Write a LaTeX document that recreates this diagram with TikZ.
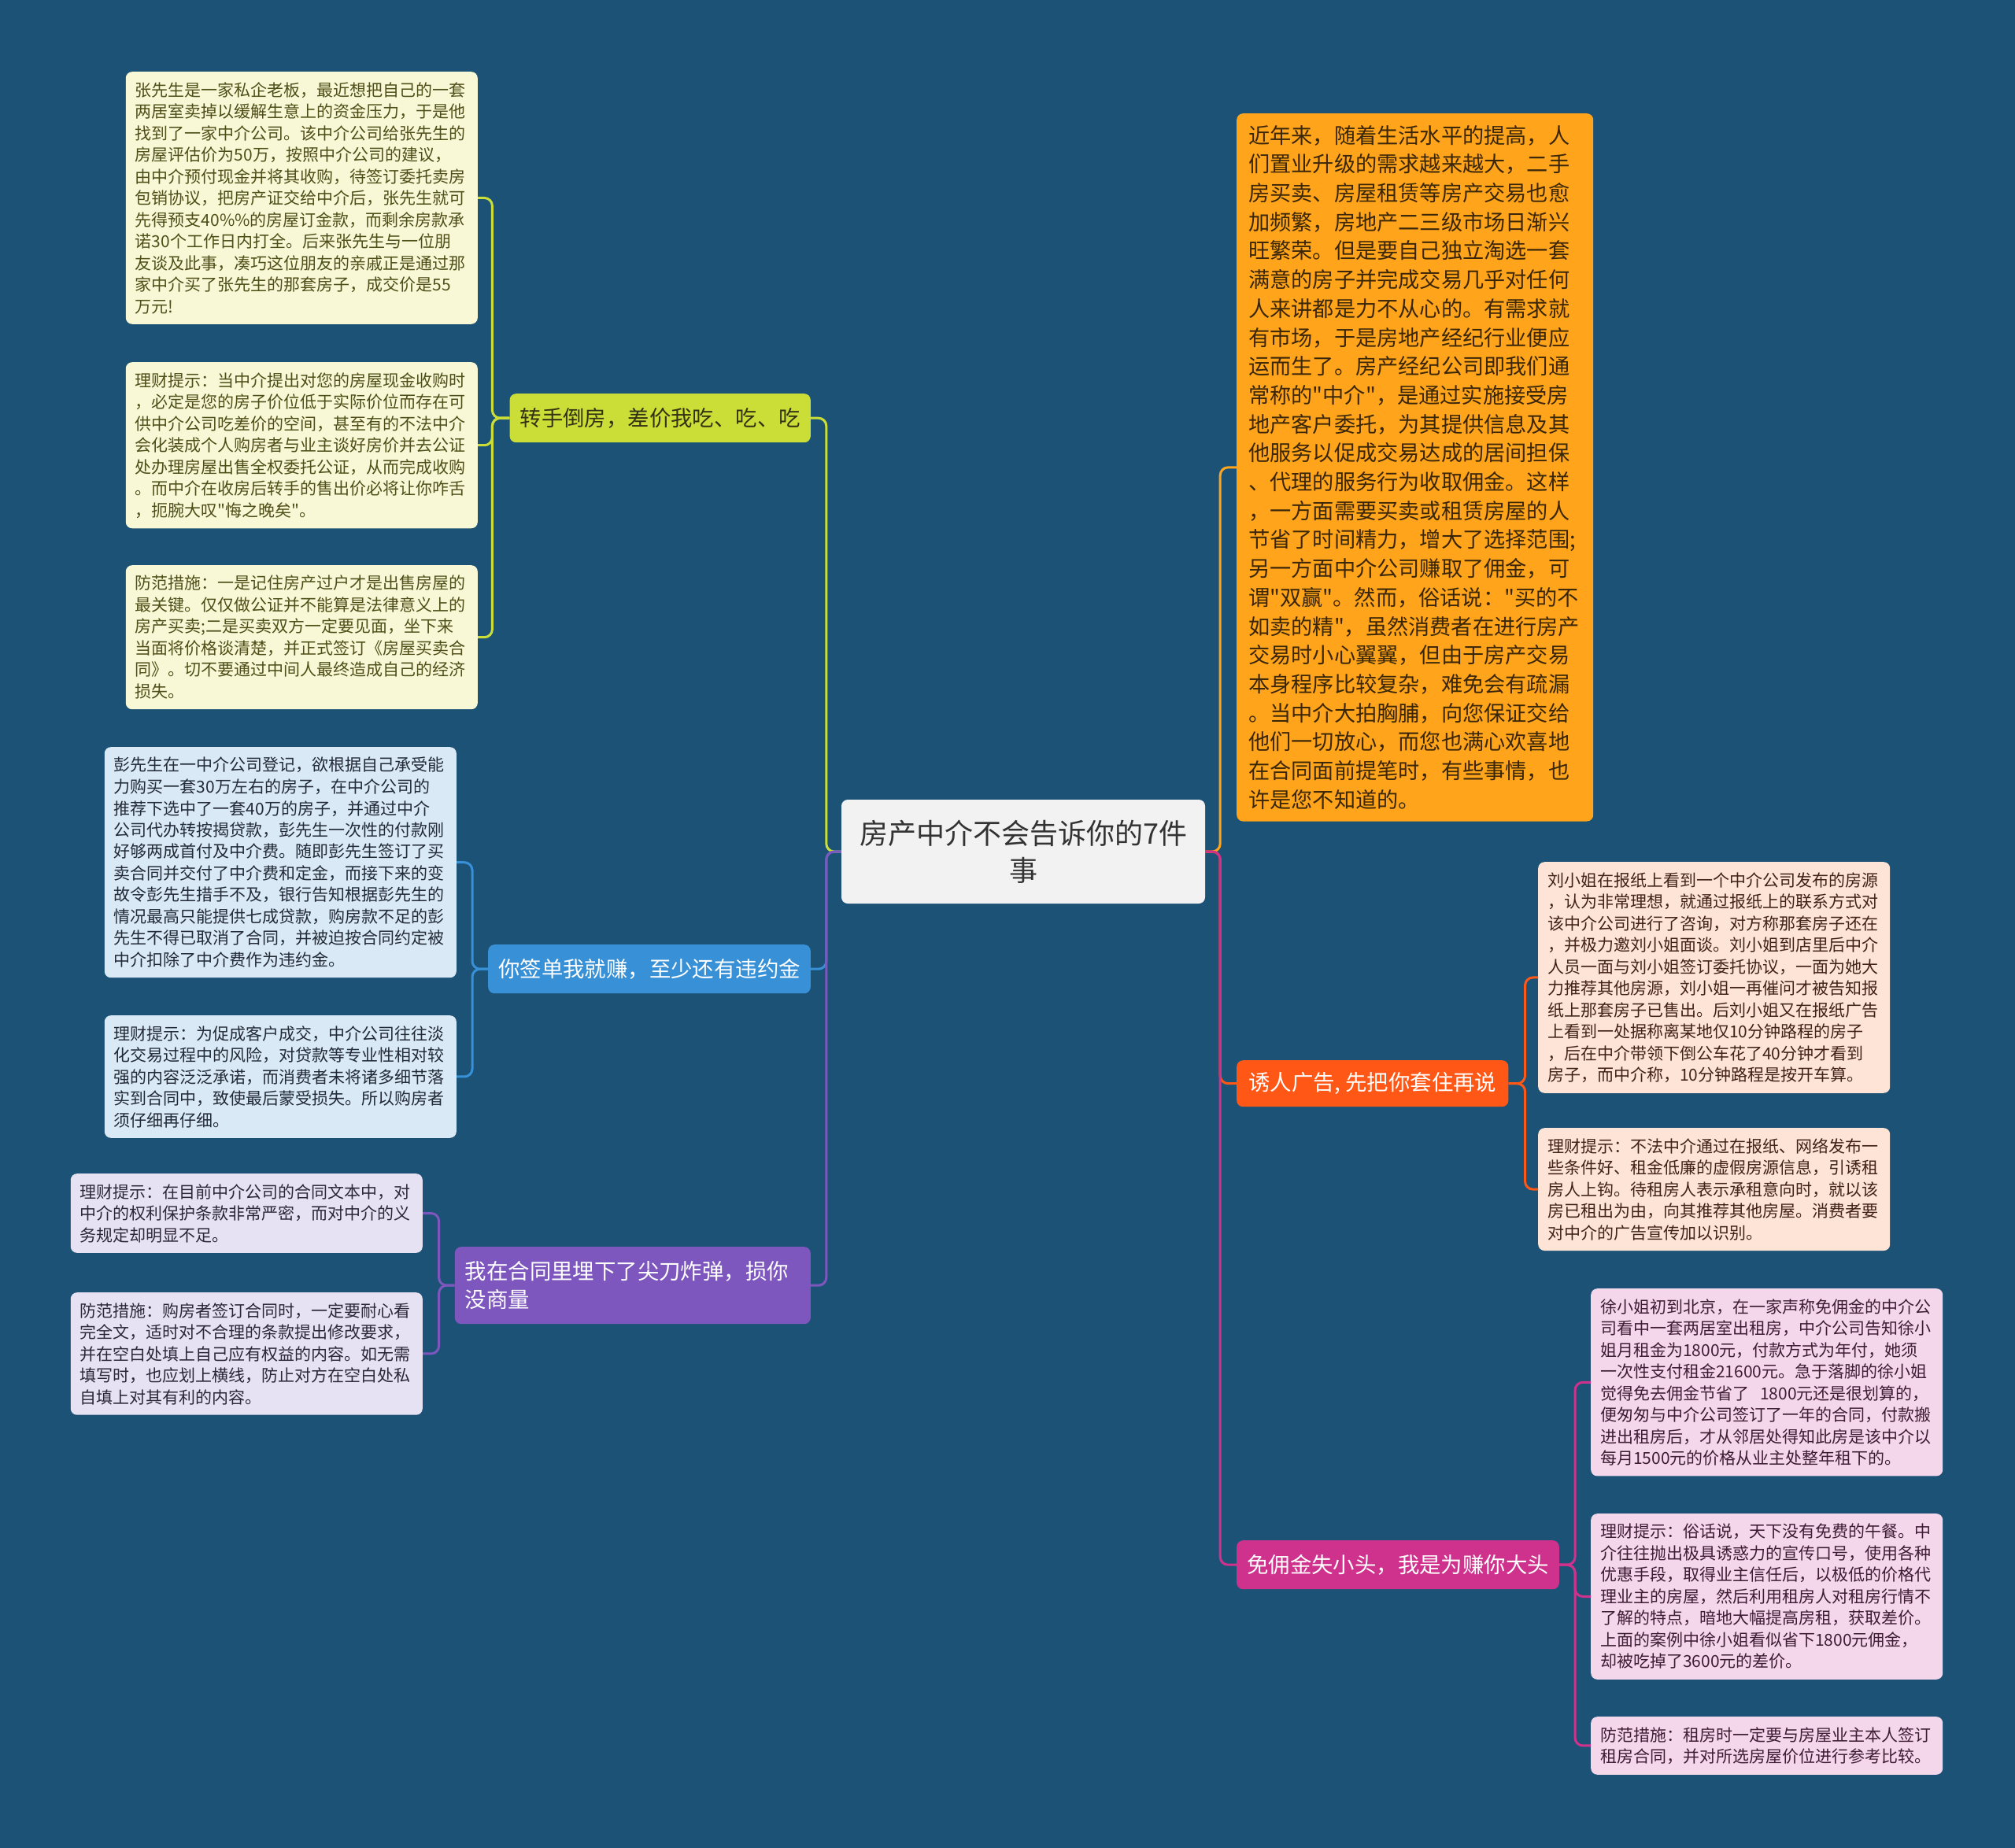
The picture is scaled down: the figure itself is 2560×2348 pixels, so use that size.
\documentclass[tikz,border=0pt]{standalone}
\usepackage{fontspec}
\usepackage{tikz}
\usepackage{xcolor}
\newfontfamily\cjk{Noto Sans CJK SC}
\definecolor{bgblue}{RGB}{28,82,118}
\definecolor{ctrgray}{RGB}{242,242,242}
\definecolor{ctrtext}{RGB}{51,51,51}
\definecolor{limeb}{RGB}{203,222,56}
\definecolor{limetext}{RGB}{51,51,20}
\definecolor{blueb}{RGB}{56,144,214}
\definecolor{purpb}{RGB}{126,87,190}
\definecolor{orngb}{RGB}{255,164,27}
\definecolor{orngtext}{RGB}{58,38,8}
\definecolor{redb}{RGB}{255,88,22}
\definecolor{magb}{RGB}{207,50,141}
\definecolor{lfyel}{RGB}{249,248,214}
\definecolor{lfyeltext}{RGB}{78,78,24}
\definecolor{lfblue}{RGB}{217,233,246}
\definecolor{lfbluetext}{RGB}{34,42,54}
\definecolor{lfpurp}{RGB}{231,226,243}
\definecolor{lfpurptext}{RGB}{44,38,56}
\definecolor{lfpeach}{RGB}{253,228,214}
\definecolor{lfpeachtext}{RGB}{66,34,22}
\definecolor{lfpink}{RGB}{244,215,235}
\definecolor{lfpinktext}{RGB}{62,28,52}
\begin{document}
\begin{tikzpicture}[x=1pt,y=-1pt,every node/.style={rounded corners=8pt,inner xsep=12pt,inner ysep=13pt},
ctrbox/.style={fill=ctrgray,text=ctrtext,minimum width=462pt,minimum height=132pt,align=center,font=\cjk\fontsize{36}{47}\selectfont},
brl/.style={anchor=north east,minimum height=62pt,inner xsep=13pt,inner ysep=0pt,align=left,font=\cjk\fontsize{27.4}{36}\selectfont},
brr/.style={brl,anchor=north west},
leafl/.style={anchor=north east,text width=423pt,align=left,font=\cjk\fontsize{21}{27.5}\selectfont},
leafr/.style={leafl,anchor=north west},
lk/.style={line width=3pt,rounded corners=10pt}]
\fill[bgblue](0,0)rectangle(2560,2348);
\node[ctrbox](ctr) at (1300,1082){房产中介不会告诉你的7件\\事};
\node[brl,fill=limeb,text=limetext](b1) at (1030,500){转手倒房，差价我吃、吃、吃};
\node[brl,fill=blueb,text=white](b2) at (1030,1200){你签单我就赚，至少还有违约金};
\node[brl,fill=purpb,text=white,minimum height=98pt,text width=426pt](b3) at (1030,1584){我在合同里埋下了尖刀炸弹，损你\\没商量};
\node[brr,fill=orngb,text=orngtext,inner xsep=15pt,inner ysep=15pt,text width=423pt,font=\cjk\fontsize{27.2}{36.7}\selectfont](r1) at (1571,144){近年来，随着生活水平的提高，人\\们置业升级的需求越来越大，二手\\房买卖、房屋租赁等房产交易也愈\\加频繁，房地产二三级市场日渐兴\\旺繁荣。但是要自己独立淘选一套\\满意的房子并完成交易几乎对任何\\人来讲都是力不从心的。有需求就\\有市场，于是房地产经纪行业便应\\运而生了。房产经纪公司即我们通\\常称的"中介"，是通过实施接受房\\地产客户委托，为其提供信息及其\\他服务以促成交易达成的居间担保\\、代理的服务行为收取佣金。这样\\，一方面需要买卖或租赁房屋的人\\节省了时间精力，增大了选择范围;\\另一方面中介公司赚取了佣金，可\\谓"双赢"。然而，俗话说："买的不\\如卖的精"，虽然消费者在进行房产\\交易时小心翼翼，但由于房产交易\\本身程序比较复杂，难免会有疏漏\\。当中介大拍胸脯，向您保证交给\\他们一切放心，而您也满心欢喜地\\在合同面前提笔时，有些事情，也\\许是您不知道的。};
\node[brr,fill=redb,text=white,minimum height=59pt,inner xsep=15pt](r2) at (1571,1347){诱人广告, 先把你套住再说};
\node[brr,fill=magb,text=white](r3) at (1571,1957){免佣金失小头，我是为赚你大头};
\node[leafl,fill=lfyel,text=lfyeltext](l1a) at (607,91){张先生是一家私企老板，最近想把自己的一套\\两居室卖掉以缓解生意上的资金压力，于是他\\找到了一家中介公司。该中介公司给张先生的\\房屋评估价为50万，按照中介公司的建议，\\由中介预付现金并将其收购，待签订委托卖房\\包销协议，把房产证交给中介后，张先生就可\\先得预支40\%\%的房屋订金款，而剩余房款承\\诺30个工作日内打全。后来张先生与一位朋\\友谈及此事，凑巧这位朋友的亲戚正是通过那\\家中介买了张先生的那套房子，成交价是55\\万元!};
\node[leafl,fill=lfyel,text=lfyeltext](l1b) at (607,460){理财提示：当中介提出对您的房屋现金收购时\\，必定是您的房子价位低于实际价位而存在可\\供中介公司吃差价的空间，甚至有的不法中介\\会化装成个人购房者与业主谈好房价并去公证\\处办理房屋出售全权委托公证，从而完成收购\\。而中介在收房后转手的售出价必将让你咋舌\\，扼腕大叹"悔之晚矣"。};
\node[leafl,fill=lfyel,text=lfyeltext](l1c) at (607,718){防范措施：一是记住房产过户才是出售房屋的\\最关键。仅仅做公证并不能算是法律意义上的\\房产买卖;二是买卖双方一定要见面，坐下来\\当面将价格谈清楚，并正式签订《房屋买卖合\\同》。切不要通过中间人最终造成自己的经济\\损失。};
\node[leafl,fill=lfblue,text=lfbluetext](l2a) at (580,949){彭先生在一中介公司登记，欲根据自己承受能\\力购买一套30万左右的房子，在中介公司的\\推荐下选中了一套40万的房子，并通过中介\\公司代办转按揭贷款，彭先生一次性的付款刚\\好够两成首付及中介费。随即彭先生签订了买\\卖合同并交付了中介费和定金，而接下来的变\\故令彭先生措手不及，银行告知根据彭先生的\\情况最高只能提供七成贷款，购房款不足的彭\\先生不得已取消了合同，并被迫按合同约定被\\中介扣除了中介费作为违约金。};
\node[leafl,fill=lfblue,text=lfbluetext](l2b) at (580,1290){理财提示：为促成客户成交，中介公司往往淡\\化交易过程中的风险，对贷款等专业性相对较\\强的内容泛泛承诺，而消费者未将诸多细节落\\实到合同中，致使最后蒙受损失。所以购房者\\须仔细再仔细。};
\node[leafl,fill=lfpurp,text=lfpurptext](l3a) at (537,1491){理财提示：在目前中介公司的合同文本中，对\\中介的权利保护条款非常严密，而对中介的义\\务规定却明显不足。};
\node[leafl,fill=lfpurp,text=lfpurptext](l3b) at (537,1642){防范措施：购房者签订合同时，一定要耐心看\\完全文，适时对不合理的条款提出修改要求，\\并在空白处填上自己应有权益的内容。如无需\\填写时，也应划上横线，防止对方在空白处私\\自填上对其有利的内容。};
\node[leafr,fill=lfpeach,text=lfpeachtext](r2a) at (1954,1095){刘小姐在报纸上看到一个中介公司发布的房源\\，认为非常理想，就通过报纸上的联系方式对\\该中介公司进行了咨询，对方称那套房子还在\\，并极力邀刘小姐面谈。刘小姐到店里后中介\\人员一面与刘小姐签订委托协议，一面为她大\\力推荐其他房源，刘小姐一再催问才被告知报\\纸上那套房子已售出。后刘小姐又在报纸广告\\上看到一处据称离某地仅10分钟路程的房子\\，后在中介带领下倒公车花了40分钟才看到\\房子，而中介称，10分钟路程是按开车算。};
\node[leafr,fill=lfpeach,text=lfpeachtext](r2b) at (1954,1433){理财提示：不法中介通过在报纸、网络发布一\\些条件好、租金低廉的虚假房源信息，引诱租\\房人上钩。待租房人表示承租意向时，就以该\\房已租出为由，向其推荐其他房屋。消费者要\\对中介的广告宣传加以识别。};
\node[leafr,fill=lfpink,text=lfpinktext](r3a) at (2021,1637){徐小姐初到北京，在一家声称免佣金的中介公\\司看中一套两居室出租房，中介公司告知徐小\\姐月租金为1800元，付款方式为年付，她须\\一次性支付租金21600元。急于落脚的徐小姐\\觉得免去佣金节省了\ \ 1800元还是很划算的，\\便匆匆与中介公司签订了一年的合同，付款搬\\进出租房后，才从邻居处得知此房是该中介以\\每月1500元的价格从业主处整年租下的。};
\node[leafr,fill=lfpink,text=lfpinktext](r3b) at (2021,1923){理财提示：俗话说，天下没有免费的午餐。中\\介往往抛出极具诱惑力的宣传口号，使用各种\\优惠手段，取得业主信任后，以极低的价格代\\理业主的房屋，然后利用租房人对租房行情不\\了解的特点，暗地大幅提高房租，获取差价。\\上面的案例中徐小姐看似省下1800元佣金，\\却被吃掉了3600元的差价。};
\node[leafr,fill=lfpink,text=lfpinktext](r3c) at (2021,2181){防范措施：租房时一定要与房屋业主本人签订\\租房合同，并对所选房屋价位进行参考比较。};
\draw[lk,limeb](ctr.west)--++(-19,0)|-(b1.east);\draw[lk,blueb](ctr.west)--++(-19,0)|-(b2.east);\draw[lk,purpb](ctr.west)--++(-19,0)|-(b3.east);
\draw[lk,orngb](ctr.east)--++(19,0)|-(r1.west);\draw[lk,redb](ctr.east)--++(19,0)|-(r2.west);\draw[lk,magb](ctr.east)--++(19,0)|-(r3.west);
\draw[lk,limeb](b1.west)--++(-22,0)|-(l1a.east);\draw[lk,limeb](b1.west)--++(-22,0)|-(l1b.east);\draw[lk,limeb](b1.west)--++(-22,0)|-(l1c.east);
\draw[lk,blueb](b2.west)--++(-20,0)|-(l2a.east);\draw[lk,blueb](b2.west)--++(-20,0)|-(l2b.east);
\draw[lk,purpb](b3.west)--++(-20,0)|-(l3a.east);\draw[lk,purpb](b3.west)--++(-20,0)|-(l3b.east);
\draw[lk,redb](r2.east)--++(21,0)|-(r2a.west);\draw[lk,redb](r2.east)--++(21,0)|-(r2b.west);
\draw[lk,magb](r3.east)--++(20,0)|-(r3a.west);\draw[lk,magb](r3.east)--++(20,0)|-(r3b.west);\draw[lk,magb](r3.east)--++(20,0)|-(r3c.west);
\end{tikzpicture}
\end{document}
